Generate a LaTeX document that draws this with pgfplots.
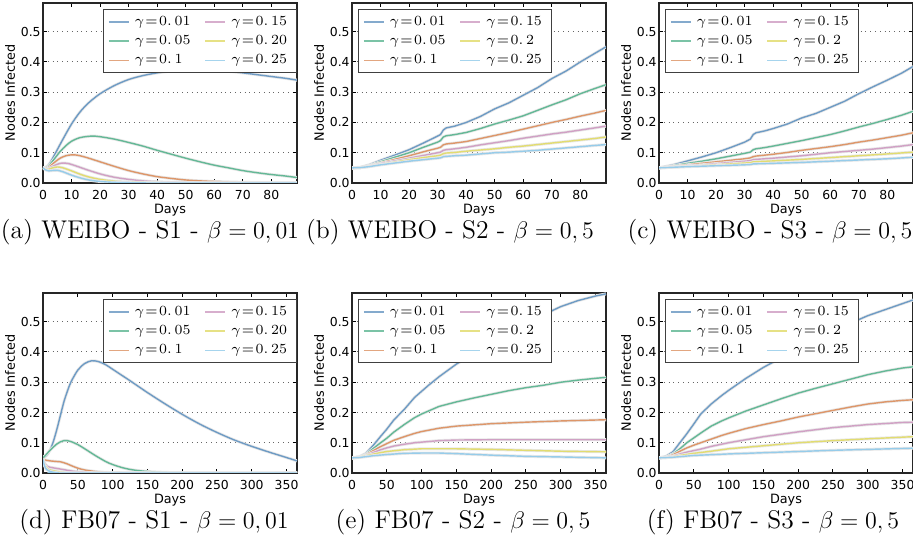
\documentclass[border=0pt]{standalone}
\usepackage{fontspec}
\usepackage{pgfplots}
\pgfplotsset{compat=1.18}
\newfontfamily\dv{DejaVu Sans}

\definecolor{cA}{RGB}{110,155,196}
\definecolor{cB}{RGB}{100,184,150}
\definecolor{cC}{RGB}{221,150,105}
\definecolor{cD}{RGB}{208,160,196}
\definecolor{cE}{RGB}{226,220,112}
\definecolor{cF}{RGB}{150,204,234}

\pgfplotsset{
  halo/.style={preaction={draw=black!9, line width=1.5pt}},
  pA/.style={cA, line width=0.7pt, halo}, pB/.style={cB, line width=0.7pt, halo},
  pC/.style={cC, line width=0.7pt, halo}, pD/.style={cD, line width=0.7pt, halo},
  pE/.style={cE, line width=0.7pt, halo}, pF/.style={cF, line width=0.7pt, halo},
  lA/.style={draw=cA!85, line width=0.9pt}, lB/.style={draw=cB!85, line width=0.9pt},
  lC/.style={draw=cC!85, line width=0.9pt}, lD/.style={draw=cD!85, line width=0.9pt},
  lE/.style={draw=cE!85, line width=0.9pt}, lF/.style={draw=cF!85, line width=0.9pt},
  panel/.style={
    scale only axis, width=127pt, height=90pt, anchor=south west,
    clip mode=individual,
    xmin=0, ymin=0, ymax=0.595,
    ytick={0,0.1,0.2,0.3,0.4,0.5},
    yticklabel style={/pgf/number format/fixed, /pgf/number format/fixed zerofill,
      /pgf/number format/precision=1, inner sep=1pt},
    /pgf/number format/assume math mode=true,
    tick label style={font=\dv\fontsize{6.2}{7}\selectfont},
    tick align=inside, tick pos=both, major tick length=2pt,
    tick style={black, line width=0.5pt},
    axis line style={black!85, line width=0.6pt},
    ymajorgrids, major grid style={dotted, black!60, line width=0.5pt},
    legend columns=2,
    legend image code/.code={\draw[#1] (0pt,0pt) -- (10pt,0pt);},
    legend cell align=left,
    legend style={font=\fontsize{6.8}{8}\selectfont, draw=black!75, line width=0.6pt,
      fill=white, inner xsep=2.2pt, inner ysep=1.4pt,
      /tikz/every even column/.append style={column sep=4.5pt},
      nodes={inner xsep=2.5pt, inner ysep=1.8pt}},
  },
  topx/.style={xmax=89, xtick={0,10,...,80}},
  botx/.style={xmax=365, xtick={0,50,...,350}},
  legR/.style={legend style={at={(1,1)}, anchor=north east, yshift=-3pt}},
  legL/.style={legend style={at={(0,1)}, anchor=north west, xshift=3pt, yshift=-3pt}},
}
\newcommand\g[1]{$\gamma\mkern1.5mu{=}\mkern1.5mu0.\,#1$}
\newcommand\legs[1]{%
  \addlegendimage{lA}\addlegendentry{\g{01}}
  \addlegendimage{lD}\addlegendentry{\g{15}}
  \addlegendimage{lB}\addlegendentry{\g{05}}
  \addlegendimage{lE}\addlegendentry{\g{#1}}
  \addlegendimage{lC}\addlegendentry{\g{1}}
  \addlegendimage{lF}\addlegendentry{\g{25}}
  \node[font=\dv\fontsize{6.4}{7}\selectfont, anchor=center] at (axis description cs:0.5,-0.15) {Days};
  \node[font=\dv\fontsize{6.4}{7}\selectfont, anchor=center, rotate=90] at (axis description cs:-0.13,0.5) {Nodes Infected};}

\begin{document}
\begin{tikzpicture}
\path[use as bounding box] (0,0) rectangle (456.5pt,272pt);

% (a) WEIBO S1
\begin{axis}[panel, topx, legR, at={(21.5pt,180.5pt)}]
\addplot[pA, smooth, forget plot] coordinates {(0,0.05)(1,0.052)(2,0.06)(3,0.075)(5,0.11)(7,0.145)(10,0.195)(13,0.235)(16,0.265)(20,0.295)(25,0.322)(30,0.342)(35,0.355)(40,0.364)(45,0.37)(50,0.373)(55,0.374)(60,0.372)(65,0.369)(70,0.364)(75,0.358)(80,0.352)(85,0.346)(89,0.34)};
\addplot[pB, smooth, forget plot] coordinates {(0,0.05)(1,0.05)(2,0.056)(4,0.08)(6,0.104)(8,0.123)(10,0.138)(13,0.15)(17,0.155)(20,0.153)(25,0.145)(30,0.134)(35,0.122)(40,0.108)(45,0.095)(50,0.082)(55,0.07)(60,0.059)(65,0.05)(70,0.041)(75,0.034)(80,0.028)(85,0.023)(89,0.018)};
\addplot[pC, smooth, forget plot] coordinates {(0,0.05)(1,0.048)(2,0.052)(4,0.068)(6,0.082)(8,0.09)(10,0.093)(12,0.092)(15,0.085)(20,0.07)(25,0.055)(30,0.041)(35,0.03)(40,0.021)(45,0.015)(50,0.01)(55,0.007)(60,0.005)(70,0.002)(80,0.001)(89,0.0005)};
\addplot[pD, smooth, forget plot] coordinates {(0,0.05)(1,0.046)(2,0.048)(4,0.058)(6,0.065)(7,0.066)(9,0.064)(12,0.055)(15,0.045)(20,0.03)(25,0.019)(30,0.012)(35,0.007)(40,0.004)(50,0.001)(60,0.0003)(89,0)};
\addplot[pE, smooth, forget plot] coordinates {(0,0.05)(1,0.045)(2,0.045)(3,0.049)(5,0.053)(7,0.05)(10,0.04)(13,0.029)(16,0.02)(20,0.012)(25,0.006)(30,0.003)(40,0.001)(50,0)(89,0)};
\addplot[pF, smooth, forget plot] coordinates {(0,0.05)(1,0.043)(2,0.04)(3,0.041)(5,0.042)(7,0.037)(10,0.026)(13,0.017)(16,0.01)(20,0.005)(25,0.002)(30,0.001)(40,0)(89,0)};
\legs{20}
\end{axis}

% (b) WEIBO S2
\begin{axis}[panel, topx, legL, at={(176pt,180.5pt)}]
\addplot[pA, forget plot] coordinates {(0,0.05)(3,0.052)(6,0.06)(10,0.075)(15,0.092)(20,0.11)(25,0.132)(30,0.155)(31,0.16)(32,0.175)(33,0.182)(36,0.188)(40,0.2)(45,0.22)(50,0.245)(55,0.265)(60,0.29)(65,0.315)(70,0.345)(75,0.37)(80,0.4)(85,0.428)(89,0.45)};
\addplot[pB, forget plot] coordinates {(0,0.05)(3,0.051)(6,0.058)(10,0.07)(15,0.085)(20,0.1)(25,0.118)(30,0.135)(31,0.14)(32,0.152)(33,0.156)(36,0.16)(40,0.167)(45,0.18)(50,0.195)(55,0.208)(60,0.222)(65,0.24)(70,0.258)(75,0.275)(80,0.295)(85,0.312)(89,0.325)};
\addplot[pC, forget plot] coordinates {(0,0.05)(3,0.051)(6,0.057)(10,0.066)(15,0.078)(20,0.09)(25,0.103)(30,0.115)(31,0.118)(32,0.126)(33,0.129)(36,0.132)(40,0.137)(45,0.147)(50,0.157)(55,0.167)(60,0.178)(65,0.189)(70,0.2)(75,0.21)(80,0.221)(85,0.231)(89,0.24)};
\addplot[pD, forget plot] coordinates {(0,0.05)(3,0.051)(6,0.056)(10,0.064)(15,0.073)(20,0.082)(25,0.091)(30,0.1)(31,0.102)(32,0.108)(33,0.11)(36,0.113)(40,0.118)(45,0.126)(50,0.133)(55,0.14)(60,0.148)(65,0.155)(70,0.162)(75,0.168)(80,0.175)(85,0.182)(89,0.188)};
\addplot[pE, forget plot] coordinates {(0,0.05)(3,0.051)(6,0.055)(10,0.061)(15,0.069)(20,0.077)(25,0.084)(30,0.09)(31,0.092)(32,0.097)(33,0.099)(36,0.101)(40,0.105)(45,0.109)(50,0.113)(55,0.118)(60,0.122)(65,0.127)(70,0.132)(75,0.137)(80,0.142)(85,0.147)(89,0.152)};
\addplot[pF, forget plot] coordinates {(0,0.05)(3,0.051)(6,0.054)(10,0.06)(15,0.066)(20,0.072)(25,0.077)(30,0.082)(31,0.083)(32,0.087)(33,0.088)(36,0.09)(40,0.092)(45,0.096)(50,0.1)(55,0.102)(60,0.105)(65,0.108)(70,0.112)(75,0.116)(80,0.12)(85,0.124)(89,0.127)};
\legs{2}
\end{axis}

% (c) WEIBO S3
\begin{axis}[panel, topx, legL, at={(329.5pt,180.5pt)}]
\addplot[pA, forget plot] coordinates {(0,0.05)(5,0.06)(10,0.073)(15,0.086)(20,0.1)(25,0.117)(30,0.135)(32,0.145)(33,0.16)(34,0.166)(37,0.172)(40,0.18)(45,0.195)(50,0.215)(55,0.23)(60,0.25)(65,0.27)(70,0.295)(75,0.318)(80,0.34)(85,0.363)(89,0.385)};
\addplot[pB, forget plot] coordinates {(0,0.05)(5,0.057)(10,0.065)(15,0.072)(20,0.08)(25,0.089)(30,0.098)(32,0.102)(33,0.11)(34,0.113)(37,0.117)(40,0.122)(45,0.131)(50,0.14)(55,0.15)(60,0.16)(65,0.172)(70,0.185)(75,0.197)(80,0.21)(85,0.224)(89,0.237)};
\addplot[pC, forget plot] coordinates {(0,0.05)(5,0.055)(10,0.06)(15,0.065)(20,0.07)(25,0.075)(30,0.08)(32,0.083)(33,0.087)(34,0.089)(40,0.095)(45,0.101)(50,0.108)(55,0.114)(60,0.12)(65,0.127)(70,0.135)(75,0.142)(80,0.15)(85,0.158)(89,0.166)};
\addplot[pD, forget plot] coordinates {(0,0.05)(5,0.053)(10,0.057)(15,0.06)(20,0.064)(25,0.068)(30,0.072)(32,0.074)(33,0.077)(34,0.078)(40,0.082)(45,0.086)(50,0.09)(55,0.095)(60,0.1)(65,0.104)(70,0.108)(75,0.112)(80,0.117)(85,0.122)(89,0.127)};
\addplot[pE, forget plot] coordinates {(0,0.05)(10,0.055)(20,0.06)(30,0.066)(32,0.067)(33,0.07)(40,0.073)(50,0.078)(60,0.084)(70,0.09)(80,0.096)(89,0.102)};
\addplot[pF, forget plot] coordinates {(0,0.05)(10,0.054)(20,0.057)(30,0.06)(32,0.061)(33,0.063)(40,0.065)(50,0.068)(60,0.072)(70,0.076)(80,0.08)(89,0.085)};
\legs{2}
\end{axis}

% (d) FB07 S1
\begin{axis}[panel, botx, legR, at={(21.5pt,35.5pt)}]
\addplot[pA, smooth, forget plot] coordinates {(0,0.05)(5,0.058)(10,0.075)(15,0.105)(20,0.145)(25,0.19)(30,0.235)(35,0.27)(40,0.3)(50,0.34)(60,0.362)(70,0.371)(80,0.368)(90,0.358)(100,0.343)(125,0.305)(150,0.266)(175,0.229)(200,0.194)(225,0.162)(250,0.134)(275,0.109)(300,0.088)(325,0.069)(350,0.051)(365,0.04)};
\addplot[pB, smooth, forget plot] coordinates {(0,0.05)(5,0.062)(10,0.075)(15,0.086)(20,0.096)(25,0.103)(30,0.107)(35,0.107)(40,0.104)(50,0.094)(60,0.08)(75,0.058)(90,0.038)(100,0.028)(115,0.017)(130,0.01)(150,0.005)(175,0.002)(200,0.001)(250,0)(365,0)};
\addplot[pC, smooth, forget plot] coordinates {(0,0.045)(5,0.042)(10,0.04)(20,0.038)(25,0.037)(30,0.034)(35,0.03)(40,0.025)(50,0.016)(60,0.01)(75,0.005)(90,0.002)(110,0.001)(150,0)(365,0)};
\addplot[pD, smooth, forget plot] coordinates {(0,0.045)(3,0.03)(6,0.022)(10,0.019)(20,0.015)(30,0.011)(40,0.007)(50,0.004)(70,0.001)(100,0)(365,0)};
\addplot[pE, smooth, forget plot] coordinates {(0,0.045)(3,0.025)(6,0.015)(10,0.01)(20,0.005)(30,0.002)(50,0)(365,0)};
\addplot[pF, smooth, forget plot] coordinates {(0,0.045)(2,0.025)(5,0.012)(10,0.005)(20,0.001)(30,0)(365,0)};
\legs{20}
\end{axis}

% (e) FB07 S2
\begin{axis}[panel, botx, legL, at={(176pt,35.5pt)}]
\addplot[pA, forget plot] coordinates {(0,0.05)(10,0.053)(20,0.065)(30,0.09)(40,0.118)(50,0.145)(60,0.175)(75,0.21)(90,0.25)(100,0.27)(110,0.29)(125,0.318)(150,0.36)(175,0.395)(200,0.43)(225,0.46)(250,0.49)(275,0.523)(300,0.55)(325,0.57)(350,0.585)(365,0.592)};
\addplot[pB, forget plot] coordinates {(0,0.05)(10,0.053)(20,0.062)(30,0.08)(40,0.098)(50,0.115)(60,0.135)(75,0.16)(90,0.183)(100,0.195)(125,0.22)(150,0.235)(175,0.248)(200,0.26)(225,0.272)(250,0.282)(275,0.29)(300,0.3)(325,0.307)(350,0.313)(365,0.316)};
\addplot[pC, forget plot] coordinates {(0,0.05)(10,0.052)(20,0.06)(30,0.073)(40,0.086)(50,0.097)(60,0.108)(75,0.12)(90,0.131)(100,0.137)(125,0.148)(150,0.155)(175,0.159)(200,0.163)(250,0.168)(300,0.172)(365,0.176)};
\addplot[pD, forget plot] coordinates {(0,0.05)(10,0.052)(20,0.058)(30,0.067)(40,0.076)(50,0.083)(60,0.089)(75,0.095)(90,0.1)(100,0.102)(125,0.107)(150,0.109)(200,0.11)(300,0.11)(365,0.11)};
\addplot[pE, forget plot] coordinates {(0,0.05)(10,0.052)(20,0.057)(30,0.062)(40,0.067)(50,0.071)(75,0.077)(100,0.08)(150,0.08)(200,0.078)(250,0.075)(300,0.072)(365,0.07)};
\addplot[pF, forget plot] coordinates {(0,0.05)(10,0.051)(20,0.054)(30,0.057)(50,0.061)(75,0.065)(100,0.066)(125,0.066)(150,0.064)(200,0.059)(250,0.055)(300,0.053)(365,0.05)};
\legs{2}
\end{axis}

% (f) FB07 S3
\begin{axis}[panel, botx, legL, at={(329.5pt,35.5pt)}]
\addplot[pA, forget plot] coordinates {(0,0.05)(10,0.055)(20,0.07)(30,0.1)(40,0.13)(50,0.162)(60,0.195)(75,0.228)(90,0.256)(100,0.273)(125,0.313)(150,0.349)(175,0.38)(200,0.41)(225,0.44)(250,0.466)(275,0.495)(300,0.52)(325,0.54)(350,0.56)(365,0.572)};
\addplot[pB, forget plot] coordinates {(0,0.05)(10,0.053)(20,0.063)(30,0.08)(40,0.1)(50,0.116)(60,0.132)(75,0.155)(90,0.172)(100,0.182)(125,0.205)(150,0.225)(175,0.245)(200,0.264)(225,0.28)(250,0.295)(275,0.31)(300,0.325)(325,0.337)(350,0.347)(365,0.351)};
\addplot[pC, forget plot] coordinates {(0,0.05)(10,0.052)(20,0.06)(30,0.072)(40,0.083)(50,0.092)(60,0.1)(75,0.112)(90,0.124)(100,0.131)(125,0.147)(150,0.16)(175,0.172)(200,0.185)(225,0.196)(250,0.207)(275,0.218)(300,0.228)(325,0.235)(350,0.24)(365,0.242)};
\addplot[pD, forget plot] coordinates {(0,0.05)(10,0.051)(20,0.056)(30,0.063)(40,0.069)(50,0.074)(60,0.079)(75,0.088)(100,0.1)(125,0.11)(150,0.12)(175,0.128)(200,0.136)(250,0.15)(300,0.16)(350,0.167)(365,0.168)};
\addplot[pE, forget plot] coordinates {(0,0.05)(10,0.051)(20,0.054)(30,0.058)(50,0.065)(75,0.072)(100,0.08)(150,0.09)(200,0.1)(250,0.107)(300,0.113)(365,0.12)};
\addplot[pF, forget plot] coordinates {(0,0.05)(10,0.051)(20,0.052)(30,0.054)(50,0.058)(100,0.063)(150,0.067)(200,0.071)(250,0.075)(300,0.078)(365,0.082)};
\legs{2}
\end{axis}

\begin{scope}[every node/.style={font=\fontsize{12.8}{15}\selectfont, inner sep=0pt}]
\node at (75pt,156pt) {(a) WEIBO - S1 - $\beta=0,01$};
\node at (225pt,156pt) {(b) WEIBO - S2 - $\beta=0,5$};
\node at (385pt,156pt) {(c) WEIBO - S3 - $\beta=0,5$};
\node at (77pt,11pt) {(d) FB07 - S1 - $\beta=0,01$};
\node at (231.5pt,11pt) {(e) FB07 - S2 - $\beta=0,5$};
\node at (386.5pt,11pt) {(f) FB07 - S3 - $\beta=0,5$};
\end{scope}
\end{tikzpicture}
\end{document}
